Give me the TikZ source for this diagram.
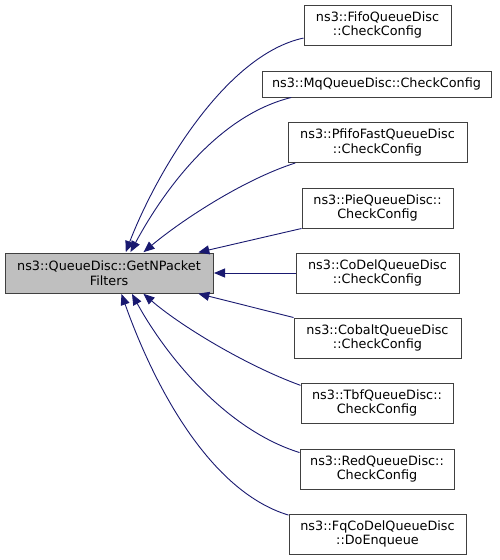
\documentclass[tikz,border=0pt]{standalone}
\usepackage{fontspec}
\setmainfont{DejaVu Sans}
\usetikzlibrary{arrows.meta}
\definecolor{mynavy}{RGB}{25, 25, 112}
\definecolor{mygray}{RGB}{191, 191, 191}
\definecolor{myborder}{RGB}{64, 64, 64}

\begin{document}
\begin{tikzpicture}[x=1pt, y=-1pt,
    font=\fontsize{12.8}{14.5}\selectfont,
    fnbox/.style={draw=myborder, line width=1pt, fill=white, inner sep=0pt, align=center, minimum height=40pt},
    callarrow/.style={draw=mynavy, line width=0.9pt, -{Triangle[length=11pt, width=9pt]}, shorten >=0.5pt}]
        \useasboundingbox (0,0) rectangle (499,560);

        % Root - GetNPacketFilters
        \node[fnbox, fill=mygray, minimum width=208pt] (getn) at (109,273) {ns3::QueueDisc::GetNPacket\\Filters};

        % Callers, one column
        \node[fnbox, minimum width=147pt] (fifo) at (377.5,25) {ns3::FifoQueueDisc\\::CheckConfig};
        \node[fnbox, minimum width=229pt, minimum height=26pt] (mq) at (376.5,84) {ns3::MqQueueDisc::CheckConfig};
        \node[fnbox, minimum width=179pt] (pfifo) at (377.5,142.5) {ns3::PfifoFastQueueDisc\\::CheckConfig};
        \node[fnbox, minimum width=151pt] (pie) at (377.5,208) {ns3::PieQueueDisc::\\CheckConfig};
        \node[fnbox, minimum width=163pt] (codel) at (377.5,273) {ns3::CoDelQueueDisc\\::CheckConfig};
        \node[fnbox, minimum width=167pt] (cobalt) at (377.5,338) {ns3::CobaltQueueDisc\\::CheckConfig};
        \node[fnbox, minimum width=152pt] (tbf) at (377,403) {ns3::TbfQueueDisc::\\CheckConfig};
        \node[fnbox, minimum width=154pt] (red) at (377,469) {ns3::RedQueueDisc::\\CheckConfig};
        \node[fnbox, minimum width=177pt] (fqcodel) at (377.5,534) {ns3::FqCoDelQueueDisc\\::DoEnqueue};

        % Upper calls
        \draw[callarrow] (fifo.190) .. controls +(-79,17) and +(30,-78) .. (getn.51);
        \draw[callarrow] (mq.189) .. controls +(-73,18) and +(34,-63) .. (getn.44);
        \draw[callarrow] (pfifo.194) .. controls +(-53,17) and +(37,-31) .. (getn.31);
        \draw[callarrow] (pie.south west) -- (getn.13);

        % Straight across
        \draw[callarrow] (codel.west) -- (getn.east);

        % Lower calls
        \draw[callarrow] (cobalt.north west) -- (getn.-13);
        \draw[callarrow] (tbf.167) .. controls +(-55,-20) and +(37,32) .. (getn.-31);
        \draw[callarrow] (red.168) .. controls +(-74,-23) and +(34,62) .. (getn.-42);
        \draw[callarrow] (fqcodel.168) .. controls +(-83,-25) and +(29,82) .. (getn.-59);
    \end{tikzpicture}
\end{document}
